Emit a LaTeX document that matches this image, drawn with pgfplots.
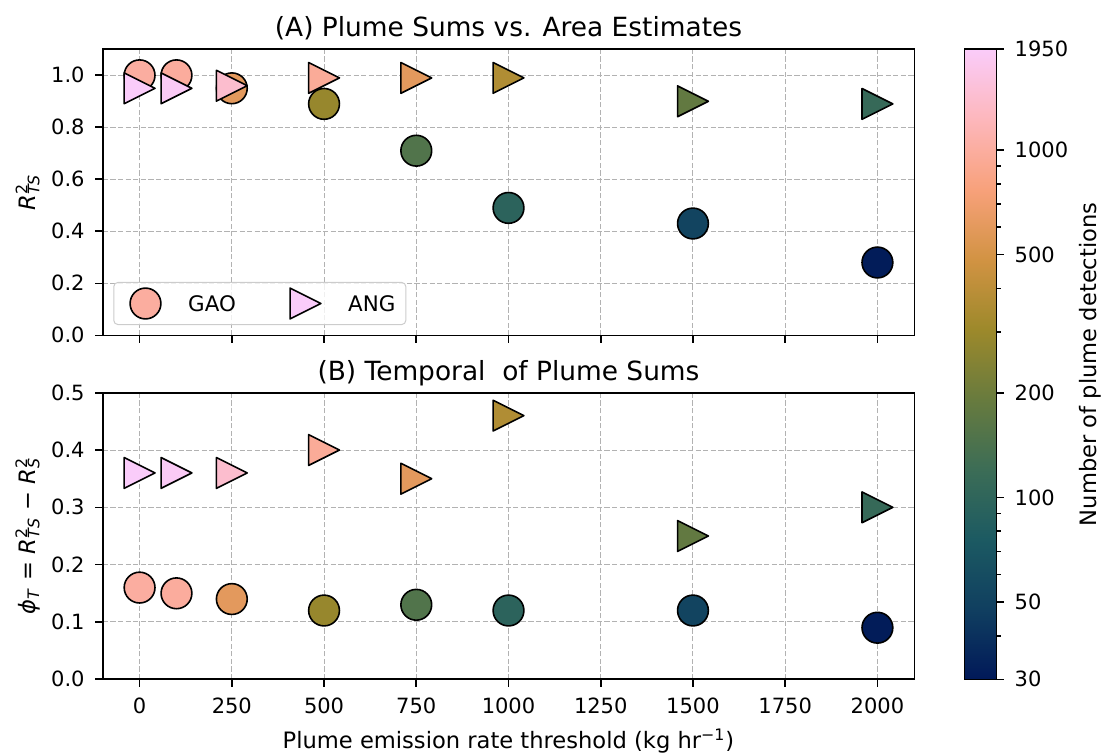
\documentclass[border=0pt]{standalone}
\usepackage{pgfplots}
\pgfplotsset{compat=1.18}
\usepackage{pgfplotstable}
\usepackage{fontspec}
\setmainfont{DejaVu Sans}

% threshold, R^2_TS, phi_T, number of plume detections
\pgfplotstableread{
x     rts   phit  n
0     1.00  0.16  1000
100   1.00  0.15  980
250   0.95  0.14  600
500   0.89  0.12  290
750   0.71  0.13  150
1000  0.49  0.12  95
1500  0.43  0.12  52
2000  0.28  0.09  31
}\gao

\pgfplotstableread{
x     rts   phit  n
0     0.95  0.36  1950
100   0.95  0.36  1880
250   0.96  0.36  1400
500   0.99  0.40  950
750   0.99  0.35  600
1000  0.99  0.46  360
1500  0.90  0.25  180
2000  0.89  0.30  110
}\ang

\definecolor{gaoleg}{RGB}{251,173,159}
\definecolor{angleg}{RGB}{250,204,250}

% right-pointing triangle, as wide as it is tall
\pgfdeclareplotmark{rtri}{%
  \pgfpathmoveto{\pgfqpoint{\pgfplotmarksize}{0pt}}%
  \pgfpathlineto{\pgfqpoint{-\pgfplotmarksize}{\pgfplotmarksize}}%
  \pgfpathlineto{\pgfqpoint{-\pgfplotmarksize}{-\pgfplotmarksize}}%
  \pgfpathclose
  \pgfusepathqfillstroke
}

\pgfplotsset{
  /pgf/number format/assume math mode=true,
  every axis title shift=0pt,
  colormap={batlow}{rgb255=(1,25,89) rgb255=(16,63,96) rgb255=(28,90,98)
    rgb255=(60,109,86) rgb255=(104,123,62) rgb255=(157,137,43)
    rgb255=(210,147,67) rgb255=(248,161,123) rgb255=(253,183,188)
    rgb255=(250,204,250)},
  % colour scale: log10 of the number of detections, 30 ... 1950
  point meta min=1.47712, point meta max=3.29003,
  frame/.style={
    scale only axis,
    axis line style={line width=0.8pt},
    tick style={line width=0.8pt, black},
    major tick length=3.65pt, minor tick length=2.1pt,
    tick align=outside,
    tick label style={font=\fontsize{10.5}{12}\selectfont},
  },
  panel/.style={
    frame, width=405.8pt,
    xmin=-100, xmax=2100, ymin=0,
    xtick={0,250,500,750,1000,1250,1500,1750,2000},
    /pgf/number format/1000 sep={},
    axis on top,
    grid=major,
    major grid style={draw=black!30, line width=0.5pt, dash pattern=on 2.6pt off 1.2pt},
    xtick pos=bottom, ytick pos=left,
    xticklabel style={anchor=base, yshift=-13.35pt, inner sep=0pt},
    yticklabel style={anchor=east, xshift=-5.2pt, inner sep=0pt,
      /pgf/number format/.cd, fixed, fixed zerofill, precision=1},
    ylabel style={at={(axis description cs:-0.0925,0.5)}, anchor=center,
      font=\fontsize{11.3}{13}\selectfont},
    title style={at={(axis description cs:0.5,1)}, anchor=base, yshift=6.3pt,
      font=\fontsize{13.2}{15}\selectfont},
  },
  gaomk/.style={only marks, scatter, mark=*, mark size=7.7pt, line width=0.8pt,
    scatter/use mapped color={draw=black, fill=mapped color},
    point meta={log10(\thisrow{n})}, forget plot},
  angmk/.style={gaomk, mark=rtri, line join=round},
}

\begin{document}
\begin{tikzpicture}
\path[use as bounding box] (-51.35pt,24.65pt) rectangle (499.15pt,-352.35pt);

\begin{axis}[panel, name=top, at={(0pt,0pt)}, anchor=north west,
  height=143pt, ymax=1.1,
  ytick={0,0.2,0.4,0.6,0.8,1.0},
  xticklabels={},
  title={(A) Plume Sums vs. Area Estimates},
  ylabel={\textit{R}\rlap{\textsuperscript{2}}\textsubscript{\textit{TS}}},
  legend columns=2,
  legend cell align=left,
  legend style={at={(axis description cs:0,0)}, anchor=south west,
    xshift=5.3pt, yshift=5.15pt, inner sep=0pt,
    draw=black!20, line width=0.5pt, rounded corners=2pt,
    fill=white, fill opacity=0.8, text opacity=1,
    font=\fontsize{10.7}{12}\selectfont,
    nodes={inner sep=0pt, text depth=0pt, draw=none}},
]
\addplot[gaomk, restrict x to domain=-50:300] table[x=x, y=rts] {\gao};
\addplot[angmk] table[x=x, y=rts] {\ang};
\addplot[gaomk, restrict x to domain=400:2100] table[x=x, y=rts] {\gao};

\addlegendimage{legend image code/.code={%
  \path[draw=none, fill=none] (-15.85pt,-10.5pt) rectangle (21.35pt,10.5pt);
  \begin{scope}[sharp corners, draw=black, fill=gaoleg, line width=0.8pt, fill opacity=1]
    \pgfsetplotmarksize{7.7pt}\pgfuseplotmark{*}
  \end{scope}}}
\addlegendentry{\makebox[24pt][l]{GAO}}
\addlegendimage{legend image code/.code={%
  \path[draw=none, fill=none] (-34.65pt,-10.5pt) rectangle (21.35pt,10.5pt);
  \begin{scope}[sharp corners, line join=round, draw=black, fill=angleg, line width=0.8pt, fill opacity=1]
    \pgfsetplotmarksize{7.7pt}\pgfuseplotmark{rtri}
  \end{scope}}}
\addlegendentry{\makebox[28.8pt][l]{ANG}}
\end{axis}

\begin{axis}[panel, name=bottom, at={(top.south west)}, anchor=north west,
  yshift=-28.7pt,
  height=143.3pt, ymax=0.5,
  ytick={0,0.1,0.2,0.3,0.4,0.5},
  title={(B) Temporal\ \ of Plume Sums},
  ylabel={\textit{ϕ}\textsubscript{\textit{T}} = \textit{R}\rlap{\textsuperscript{2}}\textsubscript{\textit{TS}} − \textit{R}\rlap{\textsuperscript{2}}\textsubscript{\textit{S}}},
  xlabel={Plume emission rate threshold (kg hr\textsuperscript{−1})},
  xlabel style={at={(axis description cs:0.5,0)}, anchor=base, yshift=-34.5pt,
    font=\fontsize{11.3}{13}\selectfont},
]
\addplot[gaomk] table[x=x, y=phit] {\gao};
\addplot[angmk] table[x=x, y=phit] {\ang};
\end{axis}

% colour bar on a log10 scale
\begin{axis}[frame, name=cbar, at={(top.north east)}, anchor=north west,
  xshift=25pt, width=16pt, height=315pt,
  xmin=0, xmax=1, ymin=1.47712, ymax=3.29003,
  axis on top,
  xtick=\empty,
  ytick={1.47712,1.69897,2,2.30103,2.69897,3,3.29003},
  yticklabels={30,50,100,200,500,1000,1950},
  minor ytick={1.60206,1.77815,1.84510,1.90309,1.95424,2.47712,2.60206,2.77815,2.84510,2.90309,2.95424},
  ytick pos=right, yticklabel pos=right,
  yticklabel style={anchor=west, xshift=5.35pt, inner sep=0pt},
  ylabel={Number of plume detections},
  ylabel style={at={(axis description cs:3.94,0.5)}, anchor=center, rotate=0,
    font=\fontsize{11.3}{13}\selectfont},
]
\addplot[surf, shader=interp, mesh/rows=2, mesh/cols=2, point meta=y]
  coordinates {(0,1.47712) (1,1.47712) (0,3.29003) (1,3.29003)};
\end{axis}
\end{tikzpicture}
\end{document}
